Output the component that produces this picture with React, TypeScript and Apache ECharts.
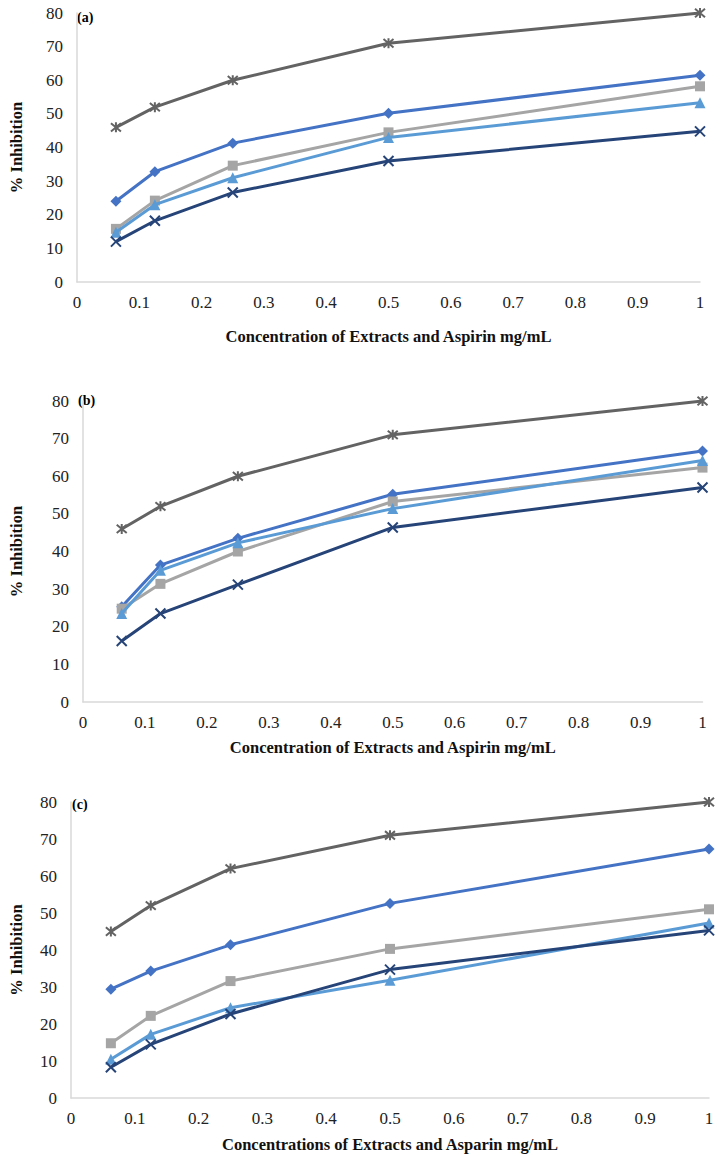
import React, { useEffect, useRef } from "react";
import * as echarts from "echarts";

const concentrations = [0.0625, 0.125, 0.25, 0.5, 1];
const xTicks = ["0", "0.1", "0.2", "0.3", "0.4", "0.5", "0.6", "0.7", "0.8", "0.9", "1"];

const seriesNames = ["Extract A", "Extract B", "Extract C", "Extract D", "Aspirin"];

// Panel (a)
const aDiamond = [24, 32.8, 41.3, 50.2, 61.5];
const aSquare = [15.8, 24.2, 34.6, 44.5, 58.2];
const aTriangle = [14.8, 23, 31, 43, 53.3];
const aCross = [12, 18.2, 26.6, 36, 44.8];
const aStar = [46, 52, 60, 71, 80];

// Panel (b)
const bDiamond = [25.3, 36.4, 43.5, 55.2, 66.7];
const bSquare = [24.8, 31.4, 40, 53.3, 62.3];
const bTriangle = [23.5, 35, 42.3, 51.4, 64.2];
const bCross = [16.2, 23.5, 31.2, 46.4, 57];
const bStar = [46, 52, 60, 71, 80];

// Panel (c)
const cDiamond = [29.4, 34.3, 41.4, 52.6, 67.3];
const cSquare = [14.8, 22.2, 31.6, 40.3, 51];
const cTriangle = [10.5, 17.2, 24.4, 31.8, 47.3];
const cCross = [8.3, 14.5, 22.7, 34.7, 45.3];
const cStar = [45, 52, 62, 71, 80];

const panelLabels = ["(a)", "(b)", "(c)"];
const xTitles = [
  "Concentration of Extracts and Aspirin mg/mL",
  "Concentration of Extracts and Aspirin mg/mL",
  "Concentrations of Extracts and Asparin mg/mL",
];
const yTitle = "% Inhibition";

const colors = ["#4472C4", "#A5A5A5", "#5B9BD5", "#264478", "#636363"];
const symbols = [
  "diamond",
  "rect",
  "triangle",
  "path://M0,0L10,10M10,0L0,10",
  "path://M0,0L10,10M10,0L0,10M5,-1L5,11",
];
const symbolSizes = [11, 10, 11, 10, 10];

const FONT = "'Liberation Serif', 'Times New Roman', serif";

export default function App() {
  const ref = useRef<HTMLDivElement>(null);
  useEffect(() => {
    document.body.style.margin = "0";
    if (!ref.current) return;
    const chart = echarts.init(ref.current, null, { renderer: "svg" });
    const panels = [
      [aDiamond, aSquare, aTriangle, aCross, aStar],
      [bDiamond, bSquare, bTriangle, bCross, bStar],
      [cDiamond, cSquare, cTriangle, cCross, cStar],
    ];
    const grids = [
      { left: 68, right: 24, top: 13, height: 269 },
      { left: 76, right: 21.5, top: 401, height: 301 },
      { left: 68, right: 15, top: 802, height: 296 },
    ];
    const yGaps = [52, 58, 46];
    const xGaps = [46, 37, 38];
    const labelPos = [
      { x: 77, y: 10 },
      { x: 78, y: 393 },
      { x: 72, y: 797 },
    ];
    const axisLineColor = "#D9D9D9";
    const tickLabel = { fontFamily: FONT, fontSize: 17, color: "#222" };
    const nameStyle = { fontFamily: FONT, fontSize: 16.5, fontWeight: "bold", color: "#111" };

    const series: any[] = [];
    panels.forEach((p, gi) => {
      p.forEach((vals, si) => {
        const isPath = si >= 3;
        series.push({
          name: seriesNames[si],
          type: "line",
          xAxisIndex: gi,
          yAxisIndex: gi,
          data: concentrations.map((c, k) => [c, vals[k]]),
          symbol: symbols[si],
          symbolSize: symbolSizes[si],
          showAllSymbol: true,
          lineStyle: { color: colors[si], width: 3 },
          itemStyle: isPath
            ? { color: colors[si], borderColor: colors[si], borderWidth: 2 }
            : { color: colors[si], borderWidth: 0 },
          z: 2 + si,
        });
      });
    });

    chart.setOption({
      animation: false,
      backgroundColor: "#fff",
      grid: grids,
      xAxis: grids.map((_, gi) => ({
        type: "value",
        gridIndex: gi,
        min: 0,
        max: 1,
        interval: 0.1,
        name: xTitles[gi],
        nameLocation: "middle",
        nameGap: xGaps[gi],
        nameTextStyle: nameStyle,
        axisLine: { show: true, lineStyle: { color: axisLineColor, width: 1.5 } },
        axisTick: { show: false },
        splitLine: { show: false },
        axisLabel: {
          ...tickLabel,
          margin: 12,
          formatter: (v: number) => xTicks[Math.round(v * 10)] ?? "",
        },
      })),
      yAxis: grids.map((_, gi) => ({
        type: "value",
        gridIndex: gi,
        min: 0,
        max: 80,
        interval: 10,
        name: yTitle,
        nameLocation: "middle",
        nameGap: yGaps[gi],
        nameRotate: 90,
        nameTextStyle: nameStyle,
        axisLine: { show: true, lineStyle: { color: axisLineColor, width: 1.5 } },
        axisTick: { show: false },
        splitLine: { show: false },
        axisLabel: { ...tickLabel, margin: 14 },
      })),
      graphic: panelLabels.map((t, i) => ({
        type: "text",
        left: labelPos[i].x,
        top: labelPos[i].y,
        style: {
          text: t,
          font: `bold 14px ${FONT}`,
          fill: "#000",
        },
      })),
      series,
    });
    return () => chart.dispose();
  }, []);
  return <div ref={ref} style={{ width: 724, height: 1156 }} />;
}
